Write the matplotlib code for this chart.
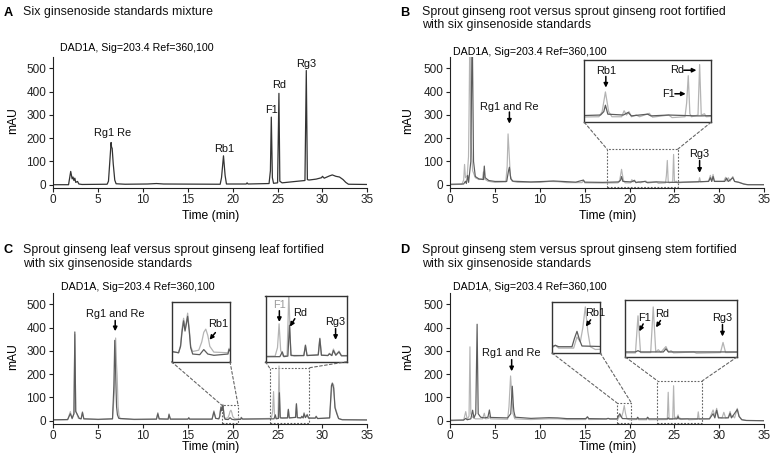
import matplotlib
matplotlib.use('Agg')
import matplotlib.pyplot as plt
from matplotlib.patches import Rectangle, ConnectionPatch

plt.rcParams['font.family'] = ['Liberation Sans', 'DejaVu Sans']

# chromatogram vertices (time in min, signal in mAU)
A_TRACE = [(0, 0), (1.7, 0), (1.94, 57), (2.1, 25), (2.2, 33), (2.3, 18), (2.4, 28), (2.5, 10), (2.7, 14),
           (2.85, 3), (3.2, 1), (6.0, 2), (6.15, 15), (6.3, 100), (6.44, 181), (6.5, 160), (6.56, 157),
           (6.68, 90), (6.85, 20), (7.0, 4), (8, 2), (10.5, 3), (11.5, 5), (12.3, 3), (18.6, 2), (18.75, 30),
           (18.97, 124), (19.15, 40), (19.3, 3), (21.5, 3), (21.6, 8), (21.7, 3), (24.05, 5), (24.2, 60),
           (24.3, 290), (24.42, 30), (24.55, 6), (25.0, 8), (25.15, 392), (25.25, 15), (25.5, 8), (26, 10),
           (27, 14), (28.05, 18), (28.2, 490), (28.32, 22), (28.5, 20), (29.3, 24), (29.9, 30), (30.0, 36),
           (30.2, 28), (30.8, 38), (31.1, 42), (31.5, 36), (31.9, 33), (32.3, 22), (32.6, 10), (32.9, 2), (35, 1)]

B_LIGHT = [(0, 0), (1.3, 2), (1.5, 20), (1.6, 87), (1.7, 30), (1.9, 40), (2.04, 120), (2.1, 300), (2.2, 700),
           (2.3, 200), (2.5, 60), (2.8, 30), (3.2, 22), (3.6, 25), (3.7, 55), (3.8, 25), (4.2, 15), (5, 10),
           (6.2, 12), (6.35, 80), (6.45, 218), (6.55, 150), (6.7, 40), (6.9, 15), (7.5, 10), (10, 10), (11, 14),
           (12, 13), (13, 9), (14.7, 9), (14.85, 18), (15.0, 8), (17, 7), (18.7, 8), (18.9, 20), (19.1, 66),
           (19.3, 20), (19.5, 8), (20.1, 8), (20.25, 22), (20.4, 12), (20.55, 20), (20.7, 8), (21.0, 12),
           (21.2, 8), (21.8, 16), (22.0, 7), (23.0, 12), (23.2, 6), (24.0, 8), (24.1, 40), (24.2, 104),
           (24.3, 15), (24.4, 8), (24.8, 12), (24.9, 130), (25.0, 12), (25.2, 15), (25.3, 8), (26, 10),
           (27.7, 12), (27.8, 30), (27.9, 12), (28.8, 15), (29.0, 40), (29.15, 15), (29.3, 44), (29.45, 15),
           (30.5, 15), (30.7, 32), (30.85, 15), (31.0, 30), (31.2, 15), (31.5, 35), (31.7, 14), (32.0, 12),
           (32.6, 5), (33, 0), (35, 0)]
B_DARK = [(0, 2), (1.5, 3), (1.7, 15), (1.8, 5), (1.95, 40), (2.05, 10), (2.3, 100), (2.45, 700), (2.6, 100),
          (2.8, 35), (3.2, 25), (3.7, 22), (3.8, 80), (3.9, 30), (4.3, 18), (5, 14), (6.3, 14), (6.5, 60),
          (6.6, 75), (6.75, 25), (7, 15), (9, 12), (10.5, 14), (11.5, 16), (12.5, 14), (14, 11), (14.85, 20),
          (15, 11), (17, 10), (18.8, 12), (19.0, 20), (19.1, 35), (19.25, 14), (20.2, 12), (20.5, 18),
          (20.7, 10), (21.7, 14), (21.9, 10), (23, 12), (24.7, 10), (25, 10), (27, 12), (28.8, 14), (29, 30),
          (29.15, 14), (29.3, 35), (29.45, 14), (30.6, 14), (30.8, 28), (31, 14), (31.5, 30), (31.7, 14),
          (32.2, 10), (32.7, 3), (33.2, 0), (35, 0)]

C_LIGHT = [(0, 3), (1.6, 4), (1.9, 39), (2.1, 8), (2.3, 30), (2.4, 370), (2.5, 40), (2.6, 32), (2.8, 10),
           (3.1, 8), (3.25, 39), (3.4, 8), (5, 5), (6.6, 8), (6.8, 120), (6.95, 355), (7.05, 240), (7.12, 192),
           (7.22, 60), (7.32, 24), (7.45, 8), (9, 5), (11.5, 6), (11.65, 35), (11.8, 7), (12.8, 6), (12.9, 30),
           (13.05, 6), (15.0, 6), (15.1, 14), (15.2, 6), (17.7, 6), (17.9, 43), (18.1, 10), (18.45, 8),
           (18.55, 20), (18.62, 45), (18.7, 62), (18.77, 45), (18.83, 55), (18.9, 70), (18.98, 45), (19.05, 18),
           (19.15, 10), (19.45, 12), (19.6, 25), (19.7, 40), (19.8, 45), (19.9, 35), (20.0, 18), (20.2, 9),
           (20.9, 8), (20.95, 15), (21.1, 7), (24.3, 10), (24.45, 40), (24.55, 125), (24.65, 30), (24.8, 10),
           (25.05, 12), (25.16, 235), (25.28, 15), (25.5, 10), (26.1, 12), (26.2, 50), (26.3, 12), (27.0, 15),
           (27.1, 74), (27.2, 14), (27.6, 12), (27.7, 20), (27.85, 12), (27.95, 35), (28.1, 14), (28.3, 28),
           (28.45, 12), (29.2, 12), (29.3, 20), (29.45, 10), (30.8, 12), (31.0, 120), (31.1, 163),
           (31.25, 153), (31.4, 60), (31.6, 35), (31.8, 10), (32.2, 5), (35, 4)]
C_DARK = [(0, 4), (1.6, 5), (1.9, 30), (2.1, 10), (2.3, 30), (2.4, 381), (2.5, 40), (2.7, 25), (2.9, 10),
          (3.1, 8), (3.25, 35), (3.4, 8), (5, 6), (6.6, 8), (6.75, 150), (6.85, 345), (6.95, 200), (7.05, 60),
          (7.15, 25), (7.3, 10), (9, 6), (11.5, 7), (11.65, 30), (11.8, 8), (12.8, 7), (12.9, 26), (13.05, 7),
          (15.0, 7), (15.1, 12), (15.2, 7), (17.7, 7), (17.9, 38), (18.1, 10), (18.45, 8), (18.55, 18),
          (18.62, 40), (18.7, 58), (18.77, 42), (18.83, 52), (18.9, 65), (18.98, 42), (19.05, 16), (19.15, 6),
          (19.5, 5), (19.7, 13), (19.9, 6), (20.2, 4), (20.9, 6), (20.95, 13), (21.1, 7), (24.6, 8),
          (24.75, 25), (24.85, 8), (25.1, 10), (25.2, 120), (25.3, 12), (26.1, 12), (26.2, 48), (26.3, 12),
          (27.0, 14), (27.1, 72), (27.2, 13), (27.6, 12), (27.7, 18), (27.85, 12), (27.95, 30), (28.1, 13),
          (28.3, 25), (28.45, 11), (29.2, 11), (29.3, 18), (29.45, 9), (30.8, 12), (31.0, 150), (31.1, 160),
          (31.25, 140), (31.4, 55), (31.6, 30), (31.8, 9), (32.2, 4), (35, 3)]

D_LIGHT = [(0, 0), (1.5, 2), (1.73, 39), (1.9, 5), (2.1, 20), (2.2, 317), (2.3, 30), (2.5, 15), (2.8, 8),
           (3.6, 8), (3.8, 32), (3.95, 8), (4.3, 10), (4.4, 20), (4.5, 8), (6.4, 6), (6.55, 60), (6.73, 192),
           (6.85, 120), (7.0, 30), (7.2, 8), (9, 5), (11, 8), (12, 8), (13, 5), (15.1, 5), (15.3, 18),
           (15.45, 5), (17.4, 6), (17.6, 10), (17.8, 6), (18.7, 6), (18.9, 22), (19.1, 15), (19.25, 35),
           (19.4, 65), (19.55, 30), (19.7, 8), (20.0, 4), (20.8, 5), (20.9, 12), (21.0, 4), (21.9, 4),
           (22.0, 14), (22.15, 4), (24.2, 5), (24.3, 122), (24.4, 6), (24.8, 6), (24.9, 150), (25.0, 8),
           (25.1, 15), (25.2, 7), (25.4, 25), (25.5, 8), (25.6, 12), (25.7, 5), (26.5, 8), (26.6, 4),
           (27.55, 6), (27.65, 38), (27.75, 6), (28.9, 8), (29.3, 46), (29.5, 20), (29.7, 53), (29.9, 15),
           (30.3, 12), (30.5, 36), (30.7, 12), (31.0, 15), (31.2, 40), (31.35, 15), (31.5, 21), (31.7, 12),
           (32.0, 53), (32.2, 20), (32.5, 5), (33, 1), (35, 0)]
D_DARK = [(0, 2), (1.5, 3), (1.73, 10), (1.9, 4), (2.3, 8), (2.5, 45), (2.65, 12), (2.85, 30), (3.0, 414),
          (3.12, 30), (3.4, 15), (3.8, 12), (4.2, 15), (4.37, 46), (4.5, 14), (6.4, 12), (6.75, 30),
          (6.92, 148), (7.05, 60), (7.1, 40), (7.25, 15), (9, 10), (11, 13), (12, 12), (13, 9), (15.1, 9),
          (15.3, 16), (15.45, 9), (17.4, 8), (17.6, 10), (17.8, 8), (18.6, 8), (18.75, 20), (18.9, 30),
          (19.05, 18), (19.2, 9), (20.8, 8), (20.9, 15), (21.0, 8), (21.9, 8), (22.0, 15), (22.15, 8),
          (24.2, 8), (24.3, 12), (24.4, 8), (25.3, 8), (25.4, 18), (25.5, 8), (27, 8), (28.9, 8), (29.3, 30),
          (29.5, 12), (29.7, 45), (29.9, 12), (31.0, 12), (31.2, 32), (31.35, 12), (32.0, 48), (32.2, 18),
          (32.5, 4), (33, 1), (35, 0)]

SIGNAL_TEXT = 'DAD1A, Sig=203.4 Ref=360,100'
TITLES = {
    'A': ['Six ginsenoside standards mixture'],
    'B': ['Sprout ginseng root versus sprout ginseng root fortified', 'with six ginsenoside standards'],
    'C': ['Sprout ginseng leaf versus sprout ginseng leaf fortified', 'with six ginsenoside standards'],
    'D': ['Sprout ginseng stem versus sprout ginseng stem fortified', 'with six ginsenoside standards'],
}
A_LABELS = [('Rg1 Re', 6.6, 222), ('Rb1', 19.0, 155), ('F1', 24.3, 320), ('Rd', 25.15, 427), ('Rg3', 28.2, 516)]

LIGHT = '#b4b4b4'
DARK = '#5c5c5c'
W, H = 778, 468

fig = plt.figure(figsize=(W / 100, H / 100), dpi=100)


def px_axes(x0, x1, y0, y1):
    return fig.add_axes([x0 / W, 1 - y1 / H, (x1 - x0) / W, (y1 - y0) / H])


def xy(trace):
    t, v = zip(*trace)
    return t, v


def main_axes(x0, top, bottom):
    ax = px_axes(x0, x0 + 314, top, bottom)
    ax.set_xlim(0, 35)
    ax.set_ylim(-12, 550)
    ax.set_xticks(range(0, 36, 5))
    ax.set_yticks(range(0, 501, 100))
    for s in ['top', 'right']:
        ax.spines[s].set_visible(False)
    for s in ['left', 'bottom']:
        ax.spines[s].set_linewidth(0.8)
        ax.spines[s].set_color('#222222')
    ax.tick_params(direction='out', length=3, width=0.8, labelsize=8.5, pad=2, colors='#222222')
    return ax


def inset(ax, rect_px, xlim, ylim, light, dark, zoom_box):
    axin = px_axes(*rect_px)
    axin.plot(*xy(light), color=LIGHT, lw=0.9)
    axin.plot(*xy(dark), color=DARK, lw=0.9)
    axin.set_xlim(*xlim)
    axin.set_ylim(*ylim)
    axin.set_xticks([])
    axin.set_yticks([])
    for s in axin.spines.values():
        s.set_color('#333333')
        s.set_linewidth(1.0)
    x0, x1, yb, yt = zoom_box
    ax.add_patch(Rectangle((x0, yb), x1 - x0, yt - yb, fill=False, ec='#666666', lw=0.8,
                           ls=(0, (1.6, 1.4)), clip_on=False))
    for fx, dx in [(0, x0), (1, x1)]:
        fig.add_artist(ConnectionPatch(xyA=(fx, 0), coordsA=axin.transAxes, xyB=(dx, yt),
                                       coordsB=ax.transData, color='#666666', lw=0.8,
                                       ls=(0, (2.5, 2))))
    return axin


def arrow(ax, start, end, trans=None):
    kw = {}
    if trans is not None:
        kw = dict(xycoords=trans, textcoords=trans)
    ax.annotate('', xy=end, xytext=start, annotation_clip=False,
                arrowprops=dict(arrowstyle='-|>', color='k', lw=1.1, mutation_scale=6,
                                shrinkA=0, shrinkB=0), **kw)


def label(ax, text, x, y, trans=None, color='#111111'):
    ax.text(x, y, text, ha='center', va='center', fontsize=7.9, color=color,
            transform=trans if trans is not None else ax.transData, clip_on=False)


# panel frames
axA = main_axes(53.3, 56.55, 187.5)
axB = main_axes(450.2, 56.55, 187.5)
axC = main_axes(53.3, 292.55, 423.5)
axD = main_axes(450.2, 292.55, 423.5)

# titles and axis labels
for key, lx, tx, ys in [('A', 3.5, 23, [12.5]), ('B', 400, 421.7, [12.5, 25]),
                        ('C', 3.5, 23, [249.7, 263.5]), ('D', 400, 421.7, [249.7, 263.5])]:
    fig.text(lx / W, 1 - ys[0] / H, key, fontsize=9.2, fontweight='bold', va='center', ha='left')
    for line, y in zip(TITLES[key], ys):
        fig.text(tx / W, 1 - y / H, line, fontsize=8.9, va='center', ha='left', color='#111111')

for ax, off, dx, ycen, xlab_y, ylab_x in [(axA, 8.5, 0.022, 121, 216, 13), (axB, 4.5, 0.01, 121, 216, 408.5),
                                           (axC, 6, 0.025, 357, 447, 13), (axD, 6, 0.01, 357, 447, 408.5)]:
    ax.text(dx, 1 + off / 131, SIGNAL_TEXT, transform=ax.transAxes, fontsize=7.7, va='center', ha='left')
    bb = ax.get_position()
    fig.text(bb.x0 + bb.width / 2, 1 - xlab_y / H, 'Time (min)', fontsize=8.7, ha='center', va='center')
    fig.text(ylab_x / W, 1 - ycen / H, 'mAU', fontsize=8.7, rotation=90, ha='center', va='center')

# A: standards only
axA.plot(*xy(A_TRACE), color='#333333', lw=0.9)
for name, t, v in A_LABELS:
    label(axA, name, t, v)

# B: root
axB.plot(*xy(B_LIGHT), color=LIGHT, lw=0.85)
axB.plot(*xy(B_DARK), color=DARK, lw=0.85)
label(axB, 'Rg1 and Re', 6.6, 334)
arrow(axB, (6.6, 312), (6.6, 262))
label(axB, 'Rg3', 27.8, 130)
arrow(axB, (27.8, 104), (27.8, 51))
inB = inset(axB, (584.3, 711, 60.3, 122.3), (17.8, 25.6), (-5, 140), B_LIGHT, B_DARK,
            (17.5, 25.35, -10, 152))
label(inB, 'Rb1', 0.17, 0.83, inB.transAxes)
arrow(inB, (0.17, 0.74), (0.17, 0.56), inB.transAxes)
label(inB, 'Rd', 0.73, 0.84, inB.transAxes)
arrow(inB, (0.785, 0.84), (0.885, 0.84), inB.transAxes)
label(inB, 'F1', 0.665, 0.46, inB.transAxes)
arrow(inB, (0.715, 0.46), (0.8, 0.46), inB.transAxes)

# C: leaf
axC.plot(*xy(C_LIGHT), color=LIGHT, lw=0.85)
axC.plot(*xy(C_DARK), color=DARK, lw=0.85)
label(axC, 'Rg1 and Re', 6.9, 457)
arrow(axC, (6.9, 430), (6.9, 384))
inC1 = inset(axC, (171.5, 230, 302.3, 361.7), (18.1, 21.0), (-6, 87), C_LIGHT, C_DARK,
             (18.8, 20.6, -10, 66))
label(inC1, 'Rb1', 0.8, 0.63, inC1.transAxes)
arrow(inC1, (0.75, 0.49), (0.65, 0.37), inC1.transAxes)
inC2 = inset(axC, (265.5, 347, 295.5, 361.7), (23.7, 28.8), (-10, 226), C_LIGHT, C_DARK,
             (24.1, 28.5, -10, 227))
label(inC2, 'F1', 0.17, 0.85, inC2.transAxes, color='#9a9a9a')
arrow(inC2, (0.17, 0.77), (0.17, 0.6), inC2.transAxes)
label(inC2, 'Rd', 0.43, 0.74, inC2.transAxes)
arrow(inC2, (0.36, 0.65), (0.3, 0.53), inC2.transAxes)
label(inC2, 'Rg3', 0.86, 0.6, inC2.transAxes)
arrow(inC2, (0.86, 0.5), (0.86, 0.33), inC2.transAxes)

# D: stem
axD.plot(*xy(D_LIGHT), color=LIGHT, lw=0.85)
axD.plot(*xy(D_DARK), color=DARK, lw=0.85)
label(axD, 'Rg1 and Re', 6.85, 289)
arrow(axD, (6.85, 262), (6.85, 212))
inD1 = inset(axD, (552, 600.3, 302, 353), (17.4, 20.3), (-1, 72), D_LIGHT, D_DARK,
             (18.6, 20.2, -10, 76))
label(inD1, 'Rb1', 0.9, 0.79, inD1.transAxes)
arrow(inD1, (0.8, 0.65), (0.7, 0.52), inD1.transAxes)
inD2 = inset(axD, (625.3, 737, 300, 357), (23.8, 28.2), (-8, 172), D_LIGHT, D_DARK,
             (23.1, 28.1, -10, 171))
label(inD2, 'F1', 0.17, 0.69, inD2.transAxes)
arrow(inD2, (0.16, 0.58), (0.125, 0.45), inD2.transAxes)
label(inD2, 'Rd', 0.33, 0.76, inD2.transAxes)
arrow(inD2, (0.315, 0.64), (0.275, 0.52), inD2.transAxes)
label(inD2, 'Rg3', 0.87, 0.69, inD2.transAxes)
arrow(inD2, (0.87, 0.57), (0.87, 0.36), inD2.transAxes)

fig.savefig('out.png', dpi=100)
